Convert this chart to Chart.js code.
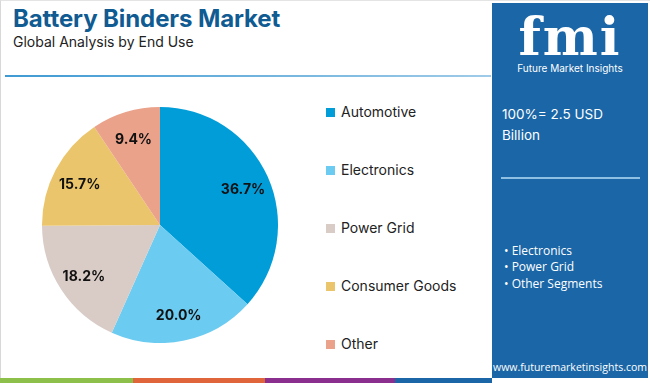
<!DOCTYPE html>
<html><head><meta charset="utf-8">
<script src="https://cdn.jsdelivr.net/npm/chart.js@4/dist/chart.umd.min.js"></script>
<style>
html,body{margin:0;padding:0;background:#fff;width:650px;height:383px;overflow:hidden;font-family:Inter,"Open Sans",sans-serif;}
#frame{position:absolute;left:0;top:0;width:649px;height:382px;border-left:1px solid #d8d8d8;border-top:1px solid #e4e4e4;}
#title{position:absolute;left:13px;top:4px;font:700 24px Inter,sans-serif;color:#0f5b92;letter-spacing:-0.1px;}
#sub{position:absolute;left:13px;top:33px;font:400 14px Inter,sans-serif;color:#222;}
#rule{position:absolute;left:5px;top:75px;width:486px;height:2px;background:linear-gradient(90deg,#3f9ad3,#9fcbe8);}
#pie{position:absolute;left:42px;top:107px;width:236px;height:236px;}
#legend{position:absolute;left:326px;top:0;}
.li{position:absolute;white-space:nowrap;font:400 14px Inter,sans-serif;color:#222;}
.li span{display:inline-block;width:9px;height:9px;margin-right:6px;vertical-align:0px;}
#panel{position:absolute;left:492px;top:3px;width:156px;height:375px;background:#1a66a6;color:#fff;}
#logo{position:absolute;left:0;top:8px;width:156px;text-align:center;font:700 52px "DejaVu Serif",serif;line-height:52px;color:#fff;letter-spacing:2px;}
#logosub{position:absolute;left:0;top:59px;width:156px;text-align:center;font:400 10px Inter,sans-serif;}
#tot{position:absolute;left:10px;top:101px;font:400 13.5px Inter,sans-serif;line-height:21px;}
#pline{position:absolute;left:9px;top:174px;width:139px;height:2px;background:#8fc0e3;}
#bul{position:absolute;left:12px;top:240px;font:400 12px "Open Sans",sans-serif;line-height:16px;}
#web{position:absolute;left:0;top:357px;width:156px;text-align:center;font:400 10.5px "Open Sans",sans-serif;}
.stripe{position:absolute;top:378px;height:5px;}
</style></head>
<body>
<div id="frame"></div>
<div id="title">Battery Binders Market</div>
<div id="sub">Global Analysis by End Use</div>
<div id="rule"></div>
<div id="pie"><canvas id="c"></canvas></div>
<div id="legend"></div>
<div id="panel">
  <div id="logo">fmi</div>
  <div id="logosub">Future Market Insights</div>
  <div id="tot">100%= 2.5 USD<br>Billion</div>
  <div id="pline"></div>
  <div id="bul">&bull; Electronics<br>&bull; Power Grid<br><div style="margin-top:1px">&bull; Other Segments</div></div>
  <div id="web">www.futuremarketinsights.com</div>
</div>
<div class="stripe" style="left:0;width:133px;background:#8cc04a"></div>
<div class="stripe" style="left:133px;width:132px;background:#e0653a"></div>
<div class="stripe" style="left:265px;width:130px;background:#8a2f8e"></div>
<div class="stripe" style="left:395px;width:97px;background:#1a66a6"></div>
<script>
const categories = ["Automotive","Electronics","Power Grid","Consumer Goods","Other"];
const shares = [36.7,20.0,18.2,15.7,9.4];
const colors = ["#009dd9","#6ccbf0","#d9ccc7","#ebc56b","#eba28b"];

const lg = document.getElementById('legend');
categories.forEach((c,i)=>{
  const d=document.createElement('div');d.className='li';
  d.style.top=(103+i*58)+'px';
  d.innerHTML='<span style="background:'+colors[i]+'"></span>'+c;
  lg.appendChild(d);
});

const labelPlugin={id:'lbl',afterDatasetsDraw(chart){
  const ctx=chart.ctx;const meta=chart.getDatasetMeta(0);
  ctx.save();ctx.font='700 14px Inter, sans-serif';ctx.fillStyle='#111';ctx.textAlign='center';ctx.textBaseline='middle';
  meta.data.forEach((arc,i)=>{
    const p=arc.getProps(['x','y','startAngle','endAngle','outerRadius'],true);
    const a=(p.startAngle+p.endAngle)/2, r=p.outerRadius*0.77;
    ctx.fillText(shares[i].toFixed(1)+'%',p.x+Math.cos(a)*r,p.y+Math.sin(a)*r+2);
  });
  ctx.restore();
}};
new Chart(document.getElementById('c'),{
  type:'pie',
  data:{labels:categories,datasets:[{data:shares,backgroundColor:colors,borderWidth:0}]},
  options:{responsive:true,maintainAspectRatio:false,animation:false,
    layout:{padding:0},
    plugins:{legend:{display:false},tooltip:{enabled:false}}},
  plugins:[labelPlugin]
});
</script>
</body></html>
